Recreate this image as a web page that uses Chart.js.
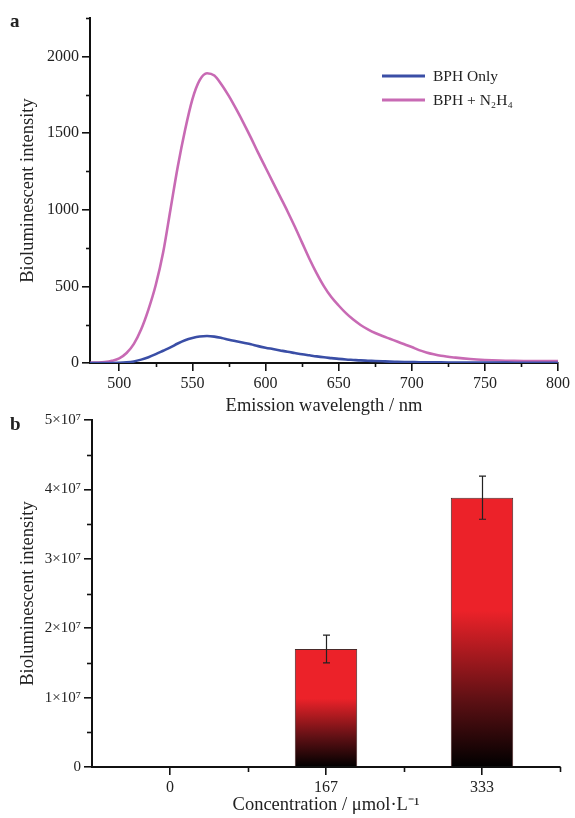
<!DOCTYPE html>
<html>
<head>
<meta charset="utf-8">
<script src="https://cdn.jsdelivr.net/npm/chart.js@4.4.1/dist/chart.umd.min.js"></script>
<style>
  html, body { margin: 0; padding: 0; background: #fff; }
  #wrap { position: relative; width: 575px; height: 818px; overflow: hidden; }
  canvas { position: absolute; left: 0; }
  #specChart { top: 0; }
  #barChart { top: 405px; }
  .panel { position: absolute; left: 10px; font: bold 19px "Liberation Serif", serif; color: #222; }
</style>
</head>
<body>
<div id="wrap">
  <canvas id="barChart" width="575" height="413"></canvas>
  <canvas id="specChart" width="575" height="418"></canvas>
  <div class="panel" style="top:10px">a</div>
  <div class="panel" style="top:413px">b</div>
</div>
<script>
// panel a: emission spectra
const wavelengths = [480, 485, 490, 495, 500, 505, 510, 515, 520, 525, 530, 535, 540, 545, 550, 555, 560, 565, 570, 575,
  580, 585, 590, 595, 600, 605, 610, 615, 620, 625, 630, 635, 640, 645, 650, 655, 660, 665, 670, 675,
  680, 685, 690, 695, 700, 705, 710, 715, 720, 730, 740, 750, 760, 770, 780, 790, 800];
const bphOnly = [0, 0, 0, 0, 1, 4, 10, 22, 38, 58, 80, 102, 127, 148, 163, 173, 176, 172, 163, 152,
  142, 132, 122, 110, 100, 91, 82, 73, 65, 57, 50, 43, 37, 32, 27, 23, 20, 17, 15, 13,
  11, 9, 8, 7, 6, 5, 5, 4, 4, 3, 3, 3, 3, 2, 2, 2, 2];
const bphN2H4 = [2, 3, 6, 14, 30, 65, 125, 220, 350, 510, 720, 1000, 1280, 1520, 1720, 1845, 1890, 1875, 1815, 1740,
  1655, 1565, 1470, 1370, 1275, 1180, 1085, 990, 890, 785, 680, 585, 500, 430, 375, 325, 283, 248, 220, 196,
  176, 158, 140, 122, 104, 84, 69, 57, 47, 35, 26, 20, 16, 14, 13, 12, 12];
const specXTicks = [500, 550, 600, 650, 700, 750, 800];
const specXMinor = [525, 575, 625, 675, 725, 775];
const specYTicks = [0, 500, 1000, 1500, 2000];
const specYMinor = [250, 750, 1250, 1750, 2250];

// panel b: intensity vs concentration
const concLabels = ["0", "167", "333"];
const meanIntensity = [0, 1.7e7, 3.88e7];
const errIntensity = [0, 0.2e7, 0.31e7];
const barYTicks = [0, 1e7, 2e7, 3e7, 4e7, 5e7];
const barYMinor = [0.5e7, 1.5e7, 2.5e7, 3.5e7, 4.5e7];
const barXMinor = [0.5, 1.5, 2.5];

const SERIF = '"Liberation Serif", "Times New Roman", serif';
const INK = "#222";
const BLUE = "#3a4ea6";
const PINK = "#c86ab4";
const RED = "#ec2229";

Chart.defaults.font.family = SERIF;
Chart.defaults.color = INK;

const minorTicks = {
  id: "minorTicks",
  afterDraw(chart, args, opts) {
    const ctx = chart.ctx;
    ctx.save();
    ctx.strokeStyle = "#111";
    ctx.lineWidth = 1.6;
    const len = opts.len || 4;
    const xs = chart.scales.x, ys = chart.scales.y;
    (opts.y || []).forEach((v) => {
      const y = Math.round(ys.getPixelForValue(v)) + 0.5;
      ctx.beginPath();
      ctx.moveTo(ys.right, y);
      ctx.lineTo(ys.right - len, y);
      ctx.stroke();
    });
    (opts.x || []).forEach((v) => {
      const x = Math.round(xs.getPixelForValue(v)) + 0.5;
      ctx.beginPath();
      ctx.moveTo(x, xs.top);
      ctx.lineTo(x, xs.top + len);
      ctx.stroke();
    });
    ctx.restore();
  },
};

const specLegend = {
  id: "specLegend",
  afterDraw(chart) {
    const ctx = chart.ctx;
    ctx.save();
    ctx.font = "15.5px " + SERIF;
    ctx.textBaseline = "middle";
    ctx.fillStyle = INK;
    const rows = [[BLUE, "BPH Only", 76], [PINK, "BPH + N₂H₄", 100]];
    rows.forEach(([c, t, y]) => {
      ctx.strokeStyle = c;
      ctx.lineWidth = 3;
      ctx.beginPath();
      ctx.moveTo(382, y);
      ctx.lineTo(425, y);
      ctx.stroke();
      ctx.fillText(t, 433, y + 1);
    });
    ctx.restore();
  },
};

const errorBars = {
  id: "errorBars",
  afterDatasetsDraw(chart) {
    const ctx = chart.ctx;
    const ys = chart.scales.y;
    const meta = chart.getDatasetMeta(0);
    ctx.save();
    ctx.strokeStyle = "#222";
    ctx.lineWidth = 1.2;
    meta.data.forEach((bar, i) => {
      const e = errIntensity[i];
      if (!e) return;
      const x = Math.round(bar.x) + 0.5;
      const top = ys.getPixelForValue(meanIntensity[i] + e);
      const bot = ys.getPixelForValue(meanIntensity[i] - e);
      ctx.beginPath();
      ctx.moveTo(x, top); ctx.lineTo(x, bot);
      ctx.moveTo(x - 3.5, top); ctx.lineTo(x + 3.5, top);
      ctx.moveTo(x - 3.5, bot); ctx.lineTo(x + 3.5, bot);
      ctx.stroke();
    });
    ctx.restore();
  },
};

function axisGrid() {
  return { drawOnChartArea: false, drawTicks: true, tickLength: 8, color: "#111", lineWidth: 1.6 };
}

new Chart(document.getElementById("specChart"), {
  type: "line",
  data: {
    datasets: [
      {
        label: "BPH Only",
        data: wavelengths.map((w, i) => ({ x: w, y: bphOnly[i] })),
        borderColor: BLUE,
        borderWidth: 2.6,
        pointRadius: 0,
        cubicInterpolationMode: "monotone",
      },
      {
        label: "BPH + N₂H₄",
        data: wavelengths.map((w, i) => ({ x: w, y: bphN2H4[i] })),
        borderColor: PINK,
        borderWidth: 2.6,
        pointRadius: 0,
        cubicInterpolationMode: "monotone",
      },
    ],
  },
  options: {
    responsive: false,
    animation: false,
    layout: { padding: { top: 18, right: 17, left: 0, bottom: 0 } },
    plugins: {
      legend: { display: false },
      tooltip: { enabled: false },
      minorTicks: { x: specXMinor, y: specYMinor, len: 4 },
    },
    scales: {
      x: {
        type: "linear",
        min: 480,
        max: 800,
        grid: axisGrid(),
        border: { color: "#111", width: 2 },
        afterBuildTicks: (s) => { s.ticks = specXTicks.map((v) => ({ value: v })); },
        afterFit: (s) => { s.height = 55; },
        ticks: { padding: 3, maxRotation: 0, font: { size: 16 }, color: INK, callback: (v) => String(v) },
        title: { display: true, text: "Emission wavelength / nm", font: { size: 18.5 }, color: INK, padding: { top: 0, bottom: 1 } },
      },
      y: {
        min: 0,
        max: 2250,
        grid: axisGrid(),
        border: { color: "#111", width: 2 },
        afterBuildTicks: (s) => { s.ticks = specYTicks.map((v) => ({ value: v })); },
        afterFit: (s) => { s.width = 90; },
        ticks: { padding: 3, font: { size: 16 }, color: INK, callback: (v) => String(v) },
        title: { display: true, text: "Bioluminescent intensity", font: { size: 18.5 }, color: INK, padding: { top: 17, bottom: 0 } },
      },
    },
  },
  plugins: [minorTicks, specLegend],
});

new Chart(document.getElementById("barChart"), {
  type: "bar",
  data: {
    labels: concLabels,
    datasets: [
      {
        data: meanIntensity,
        backgroundColor: (c) => {
          const chart = c.chart;
          if (!chart.chartArea || c.raw == null) return RED;
          const ys = chart.scales.y;
          const top = ys.getPixelForValue(c.raw);
          const bot = ys.getPixelForValue(0);
          if (bot - top < 1) return RED;
          const g = chart.ctx.createLinearGradient(0, top, 0, bot);
          g.addColorStop(0, RED);
          g.addColorStop(0.42, RED);
          g.addColorStop(0.75, "#5e1014");
          g.addColorStop(1, "#000");
          return g;
        },
        borderColor: "#4a2a2a",
        borderWidth: 1,
        barPercentage: 0.4,
        categoryPercentage: 1,
      },
    ],
  },
  options: {
    responsive: false,
    animation: false,
    layout: { padding: { top: 15, right: 15, left: 0, bottom: 0 } },
    plugins: {
      legend: { display: false },
      tooltip: { enabled: false },
      minorTicks: { x: barXMinor, y: barYMinor, len: 5 },
    },
    scales: {
      x: {
        offset: true,
        grid: Object.assign(axisGrid(), { offset: false }),
        border: { color: "#111", width: 2 },
        afterFit: (s) => { s.height = 51; },
        ticks: { padding: 3, font: { size: 16 }, color: INK },
        title: { display: true, text: "Concentration / μmol·L⁻¹", font: { size: 18.5 }, color: INK, padding: { top: 0, bottom: 2 } },
      },
      y: {
        min: 0,
        max: 5e7,
        grid: axisGrid(),
        border: { color: "#111", width: 2 },
        afterBuildTicks: (s) => { s.ticks = barYTicks.map((v) => ({ value: v })); },
        afterFit: (s) => { s.width = 92; },
        ticks: {
          padding: 3,
          font: { size: 15 },
          color: INK,
          callback: (v) => (v === 0 ? "0" : Math.round(v / 1e7) + "×10⁷"),
        },
        title: { display: true, text: "Bioluminescent intensity", font: { size: 18.5 }, color: INK, padding: { top: 17, bottom: 0 } },
      },
    },
  },
  plugins: [minorTicks, errorBars],
});
</script>
</body>
</html>
